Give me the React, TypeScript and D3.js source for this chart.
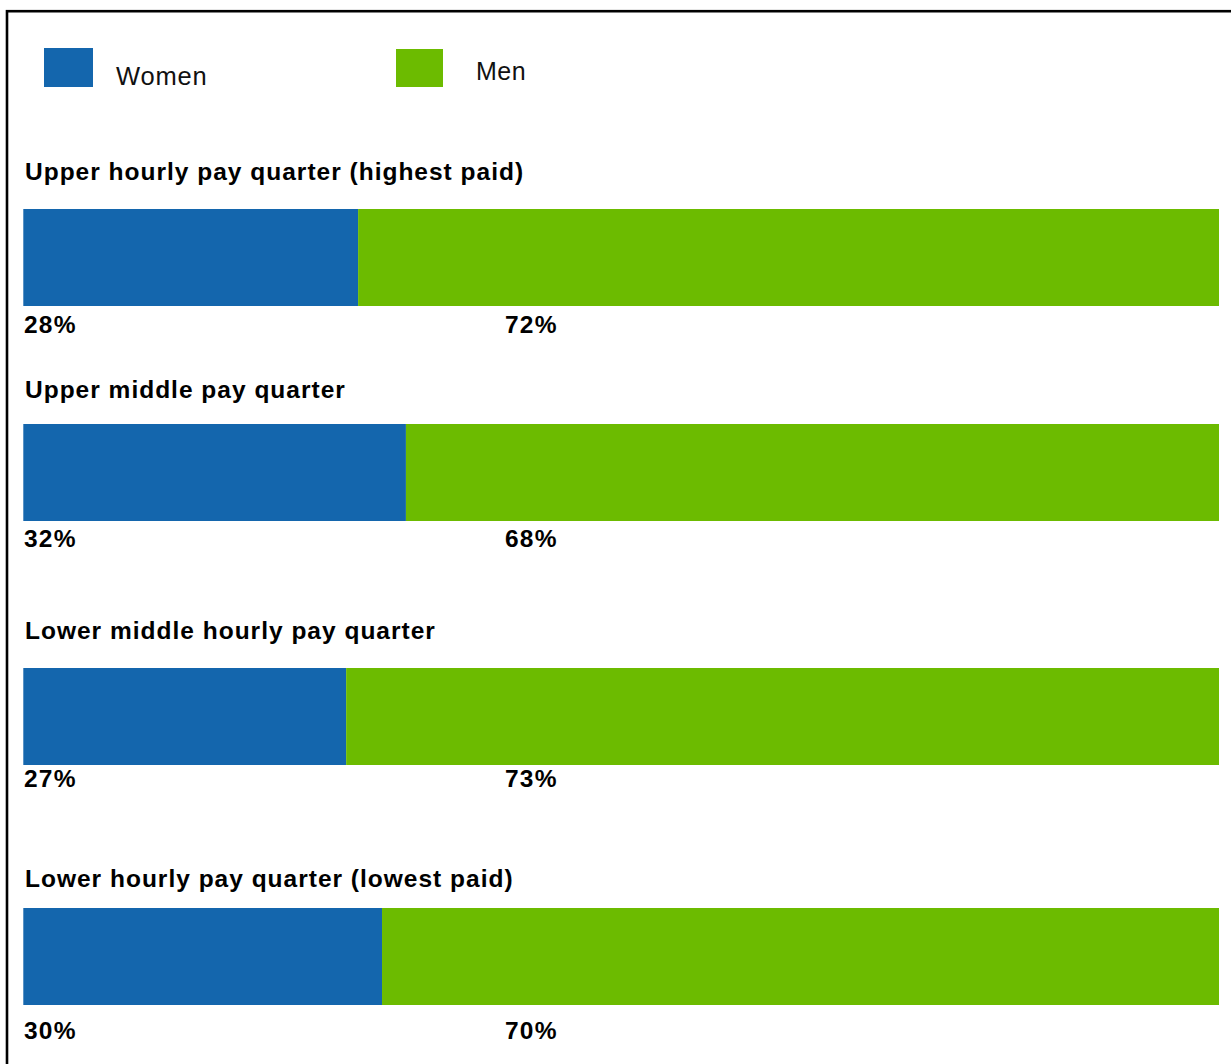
import React from "react";
import * as d3 from "d3";

const categories = [
  "Upper hourly pay quarter (highest paid)",
  "Upper middle pay quarter",
  "Lower middle hourly pay quarter",
  "Lower hourly pay quarter (lowest paid)",
];
const women = [28, 32, 27, 30];
const men = [72, 68, 73, 70];
const seriesNames = ["Women", "Men"];
const colors = ["#1466ad", "#6cbb00"];

// layout (positions only)
const barTops = [209, 424, 668, 908];
const titleBaselines = [180, 398, 639, 887];
const labelBaselines = [333, 547, 787, 1039];

export default function App() {
  const W = 1231;
  const H = 1064;
  const x = d3.scaleLinear().domain([0, 100]).range([23.3, 1219]);
  const yTop = d3.scaleOrdinal<string, number>().domain(categories).range(barTops);
  const yTitle = d3.scaleOrdinal<string, number>().domain(categories).range(titleBaselines);
  const yLabel = d3.scaleOrdinal<string, number>().domain(categories).range(labelBaselines);
  const barH = 97;
  const font = "'Liberation Sans', Arial, Helvetica, sans-serif";

  return (
    <svg
      width={W}
      height={H}
      style={{ position: "absolute", left: 0, top: 0, background: "#fff" }}
      fontFamily={font}
    >
      <rect x={0} y={0} width={W} height={H} fill="#fff" />
      <rect x={7} y={11.2} width={W + 20} height={H + 20} fill="none" stroke="#000" strokeWidth={2.6} />

      {/* legend */}
      <rect x={44} y={48} width={49} height={39} fill={colors[0]} />
      <text x={116} y={85} fontSize={25.5} letterSpacing={0.8} fill="#111">{seriesNames[0]}</text>
      <rect x={396} y={49} width={47} height={38} fill={colors[1]} />
      <text x={476} y={80} fontSize={25} letterSpacing={0.5} fill="#111">{seriesNames[1]}</text>

      {categories.map((c, i) => {
        const top = yTop(c);
        return (
          <g key={c}>
            <text x={25} y={yTitle(c)} fontSize={24.5} letterSpacing={1} fontWeight="bold" fill="#000">{c}</text>
            <rect x={x(0)} y={top} width={x(women[i]) - x(0)} height={barH} fill={colors[0]} />
            <rect x={x(women[i])} y={top} width={x(women[i] + men[i]) - x(women[i])} height={barH} fill={colors[1]} />
            <text x={24} y={yLabel(c)} fontSize={24.5} letterSpacing={1.2} fontWeight="bold" fill="#000">{women[i]}%</text>
            <text x={505} y={yLabel(c)} fontSize={24.5} letterSpacing={1.2} fontWeight="bold" fill="#000">{men[i]}%</text>
          </g>
        );
      })}
    </svg>
  );
}
